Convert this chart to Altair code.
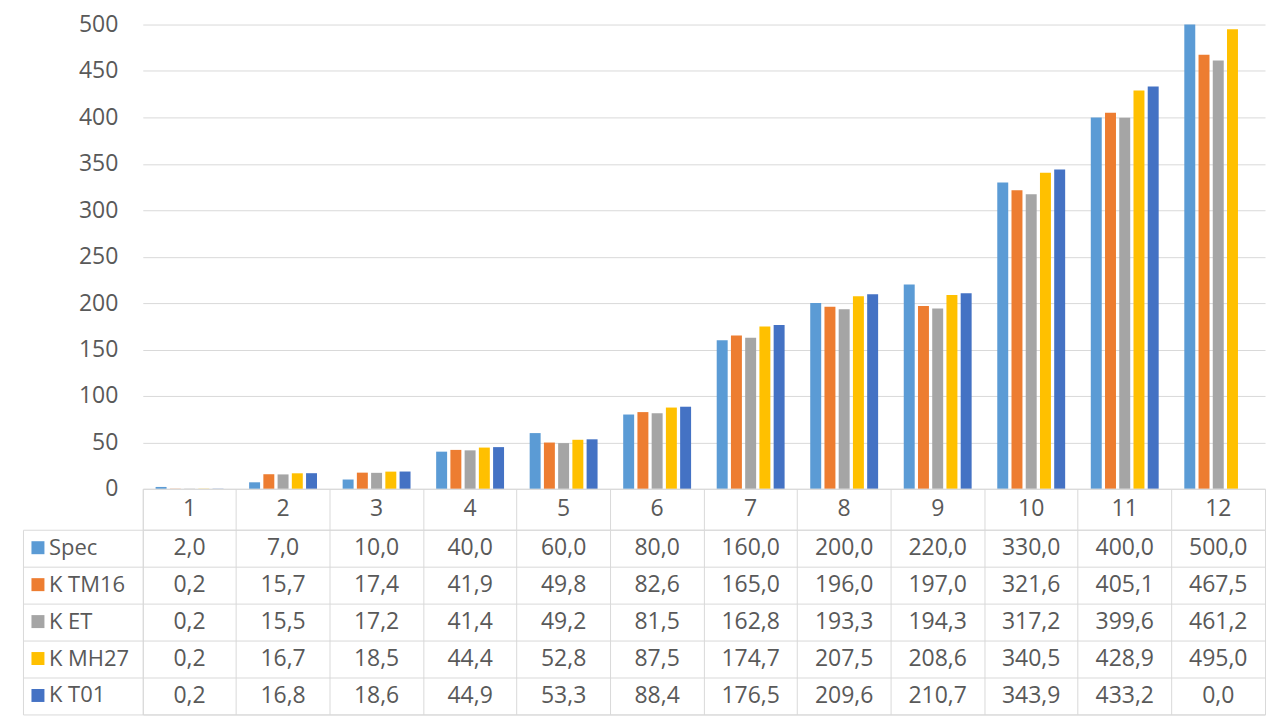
import altair as alt
import pandas as pd

categories = list(range(1, 13))
series_names = ["Spec", "K TM16", "K ET", "K MH27", "K T01"]
spec = [2.0, 7.0, 10.0, 40.0, 60.0, 80.0, 160.0, 200.0, 220.0, 330.0, 400.0, 500.0]
k_tm16 = [0.2, 15.7, 17.4, 41.9, 49.8, 82.6, 165.0, 196.0, 197.0, 321.6, 405.1, 467.5]
k_et = [0.2, 15.5, 17.2, 41.4, 49.2, 81.5, 162.8, 193.3, 194.3, 317.2, 399.6, 461.2]
k_mh27 = [0.2, 16.7, 18.5, 44.4, 52.8, 87.5, 174.7, 207.5, 208.6, 340.5, 428.9, 495.0]
k_t01 = [0.2, 16.8, 18.6, 44.9, 53.3, 88.4, 176.5, 209.6, 210.7, 343.9, 433.2, 0.0]
colors = ["#5B9BD5", "#ED7D31", "#A5A5A5", "#FFC000", "#4472C4"]
y_ticks = list(range(0, 501, 50))

rows = []
for name, vals in zip(series_names, [spec, k_tm16, k_et, k_mh27, k_t01]):
    for c, v in zip(categories, vals):
        rows.append({"cat": c, "series": name, "value": v})
df = pd.DataFrame(rows)
cat_df = pd.DataFrame({"cat": categories})

FONT = "Open Sans"
TXT = "#595959"
GRID = "#D9D9D9"
W = 1124
FS = 23

color_scale = alt.Scale(domain=series_names, range=colors)

bars = alt.Chart(df).mark_bar().encode(
    x=alt.X("cat:O", axis=None, scale=alt.Scale(paddingInner=0.274, paddingOuter=0.137)),
    xOffset=alt.XOffset("series:N", sort=series_names,
                        scale=alt.Scale(paddingInner=0.23, paddingOuter=0)),
    y=alt.Y("value:Q", scale=alt.Scale(domain=[0, 500], nice=False),
            axis=alt.Axis(values=y_ticks, title=None, domain=False, ticks=False, grid=True,
                          gridColor=GRID, labelFont=FONT, labelFontSize=FS, labelColor=TXT,
                          labelPadding=25)),
    color=alt.Color("series:N", sort=series_names, scale=color_scale,
                    legend=alt.Legend(orient="none", legendX=-116, legendY=513, title=None,
                                      direction="vertical", symbolType="square", symbolSize=169,
                                      symbolStrokeWidth=0, symbolOpacity=1, labelFont=FONT,
                                      labelFontSize=22, labelColor=TXT, rowPadding=15,
                                      labelOffset=0, padding=0)),
).properties(width=W, height=465)

band0 = alt.Scale(type="band", paddingInner=0, paddingOuter=0)

header = alt.Chart(cat_df).transform_calculate(hdr="'h'").mark_text(
    font=FONT, fontSize=FS, color=TXT
).encode(
    x=alt.X("cat:O", scale=band0,
            axis=alt.Axis(title=None, labels=False, ticks=False, domain=False, grid=True,
                          gridColor=GRID, bandPosition=0)),
    y=alt.Y("hdr:N", scale=band0,
            axis=alt.Axis(title=None, labels=False, domain=False, ticks=True, tickSize=120,
                          tickColor=GRID, bandPosition=1, grid=False)),
    text=alt.Text("cat:O"),
).properties(width=W, height=41, view=alt.ViewBackground(stroke=GRID, strokeWidth=1))

body_text = alt.Chart(df).transform_calculate(
    lbl="replace(format(datum.value, '.1f'), '.', ',')"
).mark_text(font=FONT, fontSize=FS, color=TXT).encode(
    x=alt.X("cat:O", scale=band0,
            axis=alt.Axis(title=None, labels=False, ticks=False, domain=False, grid=True,
                          gridColor=GRID, bandPosition=0)),
    y=alt.Y("series:N", sort=series_names, scale=band0,
            axis=alt.Axis(title=None, labels=False, domain=False, ticks=True, tickSize=120,
                          tickColor=GRID, bandPosition=1, grid=True, gridColor=GRID)),
    text="lbl:N",
)

body_border = alt.Chart(df).mark_point(opacity=0).encode(
    y=alt.Y("series:N", sort=series_names, scale=band0,
            axis=alt.Axis(orient="left", offset=120, title=None, labels=False, ticks=False,
                          grid=False, domain=True, domainColor=GRID)),
)

body = alt.layer(body_text, body_border).resolve_scale(y="independent").properties(
    width=W, height=185, view=alt.ViewBackground(stroke=GRID, strokeWidth=1)
)

chart = alt.vconcat(bars, header, body, spacing=0, bounds="flush").resolve_scale(
    x="independent"
).resolve_legend(color="independent").configure_view(stroke="transparent").properties(
    padding={"left": 14, "top": 4, "right": 6, "bottom": 2}
)

chart.save("out.html", embed_options={"renderer": "svg", "actions": False})
